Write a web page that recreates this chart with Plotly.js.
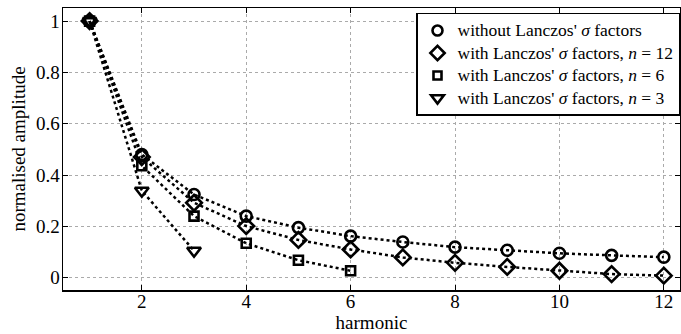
<!DOCTYPE html>
<html>
<head>
<meta charset="utf-8">
<script src="https://cdn.plot.ly/plotly-3.0.1.min.js"></script>
<style>html,body{margin:0;padding:0;background:#fff;}#chart{width:681px;height:334px;}</style>
</head>
<body>
<div id="chart"></div>
<script>
const harmonics = [1,2,3,4,5,6,7,8,9,10,11,12];
const noSigma   = [1,0.48,0.324,0.24,0.195,0.162,0.139,0.119,0.107,0.095,0.087,0.08];
const harm12    = [1,2,3,4,5,6,7,8,9,10,11,12];
const sigma12   = [1,0.47,0.292,0.201,0.147,0.11,0.079,0.058,0.042,0.027,0.014,0.008];
const harm6     = [1,2,3,4,5,6];
const sigma6    = [1,0.436,0.24,0.134,0.068,0.027];
const harm3     = [1,2,3];
const sigma3    = [1,0.339,0.105];
const names = [
  "without Lanczos' <i>σ</i> factors",
  "with Lanczos' <i>σ</i> factors, <i>n</i> = 12",
  "with Lanczos' <i>σ</i> factors, <i>n</i> = 6",
  "with Lanczos' <i>σ</i> factors, <i>n</i> = 3"
];
const xTickVals = [2,4,6,8,10,12];
const yTickVals = [0,0.2,0.4,0.6,0.8,1];
const yTickText = ['0','0.2','0.4','0.6','0.8','1'];

const FONT = "'Liberation Serif', 'Times New Roman', 'DejaVu Serif', serif";
const symbols = ['circle-open','diamond-open','square-open','triangle-down-open'];
const sizes = [11, 12, 9, 12];
const series = [[harmonics, noSigma],[harm12, sigma12],[harm6, sigma6],[harm3, sigma3]];

const data = [];
series.forEach(function(s, i) {
  data.push({
    x: s[0], y: s[1], type: 'scatter', mode: 'lines+markers', showlegend: false,
    line: {color: '#000', width: 2.5, dash: 'dot'},
    marker: {symbol: symbols[i], size: sizes[i], color: '#000', line: {color: '#000', width: 2.6}}
  });
});
series.forEach(function(s, i) {
  data.push({
    x: [null], y: [null], type: 'scatter', mode: 'markers', showlegend: true,
    name: '<span style="font-size:17.5px">' + names[i] + '</span>',
    marker: {symbol: symbols[i], size: sizes[i] - 1, color: '#000', line: {color: '#000', width: 2.6}}
  });
});

const axisCommon = {
  showline: true, linecolor: '#000', linewidth: 1.5, mirror: 'ticks',
  ticks: 'inside', ticklen: 5, tickcolor: '#000', tickwidth: 1,
  showgrid: true, gridcolor: '#aaa', griddash: 'dot', gridwidth: 1,
  zeroline: false,
  tickfont: {family: FONT, size: 19, color: '#000'}
};
const layout = {
  width: 681, height: 334,
  margin: {l: 63, r: 1, t: 8, b: 44},
  paper_bgcolor: '#fff', plot_bgcolor: '#fff',
  font: {family: FONT, color: '#000'},
  xaxis: Object.assign({}, axisCommon, {
    range: [0.49, 12.31], tickvals: xTickVals, ticktext: xTickVals.map(String),
    ticklabelstandoff: -6,
    title: {text: 'harmonic', font: {family: FONT, size: 19, color: '#000'}, standoff: 2}
  }),
  yaxis: Object.assign({}, axisCommon, {
    range: [-0.048, 1.051], tickvals: yTickVals, ticktext: yTickText,
    ticklabelstandoff: -2,
    title: {text: 'normalised amplitude', font: {family: FONT, size: 19, color: '#000'}, standoff: 5}
  }),
  showlegend: true,
  legend: {
    x: 1, xanchor: 'right', y: 0.983, yanchor: 'top',
    bgcolor: '#fff', bordercolor: '#000', borderwidth: 1.5,
    font: {family: FONT, size: 15, color: '#000'},
    tracegroupgap: 0, itemwidth: 30
  }
};
Plotly.newPlot('chart', data, layout, {displayModeBar: false, staticPlot: true});
</script>
</body>
</html>
